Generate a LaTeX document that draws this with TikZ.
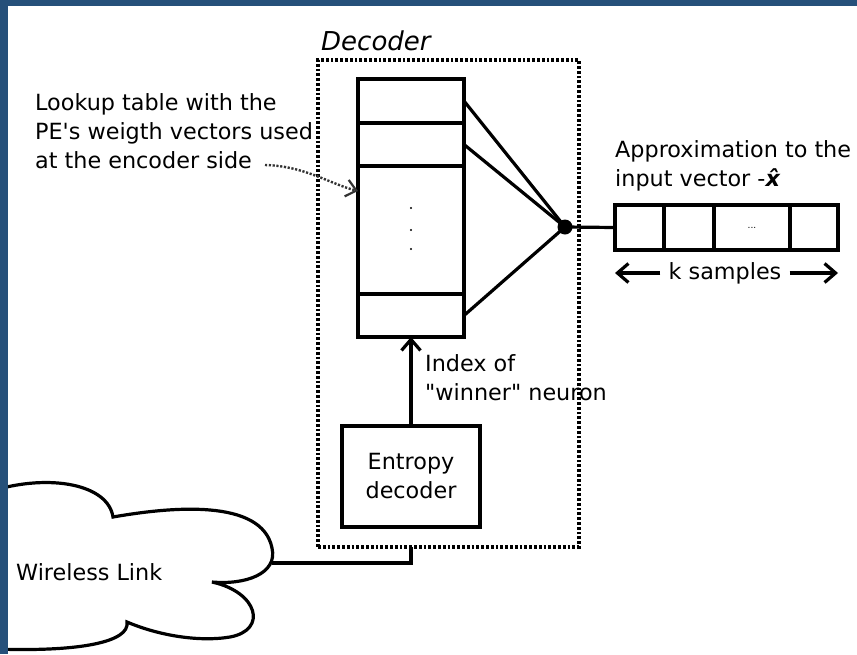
\documentclass[tikz,border=0pt]{standalone}
\usepackage{fontspec}
\setmainfont{DejaVu Sans}
\usetikzlibrary{positioning,arrows.meta}
\definecolor{frameblue}{RGB}{38,80,122}

\begin{document}
\begin{tikzpicture}[x=1pt, y=-1pt,
    font=\fontsize{22.3}{29}\selectfont,
    cell/.style={draw, line width=3.5pt, inner sep=0pt, outer sep=0pt, minimum width=106pt},
    veccell/.style={draw, line width=3.5pt, inner sep=0pt, outer sep=0pt, minimum height=45pt},
    block/.style={draw, line width=3.5pt, outer sep=0pt, align=center,
        minimum width=138pt, minimum height=101pt},
    dotbox/.style={draw, line width=3.2pt, dash pattern=on 2.8pt off 2pt, outer sep=0pt,
        minimum width=261pt, minimum height=487pt},
    note/.style={align=left, inner sep=0pt, anchor=north west},
    wire/.style={line width=3.2pt},
    barb/.style={line width=3.2pt, -{Straight Barb[length=11pt, width=19pt]}},
    pointer/.style={line width=2.4pt, black!80, dash pattern=on 2.2pt off 1.6pt,
        -{Straight Barb[length=10pt, width=17pt, line width=2.2pt]}}
        ]

    \fill [white] (0,0) rectangle (857,654);
    \path [use as bounding box] (0,0) rectangle (857,654);

    % decoder frame
    \node [dotbox] (decoder) at (448.5,303.5) {};
    \node [anchor=base west, inner sep=0pt, font=\fontsize{26}{30}\selectfont\itshape]
        (dectitle) at ([xshift=3pt, yshift=10pt]decoder.north west) {Decoder};

    % lookup table
    \node [cell, minimum height=44pt, anchor=north west] (row1) at (358,79) {};
    \node [cell, minimum height=43pt, below=0pt of row1] (row2) {};
    \node [cell, minimum height=128pt, below=0pt of row2] (rowdots) {};
    \node [cell, minimum height=43pt, below=0pt of rowdots] (rowN) {};
    \foreach \y in {208,230,249}
        \fill (411,\y) circle (1.1pt);

    \node [note] (lutnote) at (35,93)
        {Lookup table with the\\PE\textquotesingle s weigth vectors used\\at the encoder side};
    \coordinate (sideend) at (265,165);
    \draw [pointer] (sideend) .. controls (305,166) and (330,184) .. ([yshift=39pt]rowdots.west);

    % output vector
    \node [circle, fill, inner sep=0pt, minimum size=15pt] (junc) at (565,227) {};
    \draw [wire] (row1.east) -- (junc.center);
    \draw [wire] (row2.east) -- (junc.center);
    \draw [wire] (rowN.east) -- (junc.center);

    \node [veccell, minimum width=49pt, anchor=west] (v1) at (615,227.5) {};
    \node [veccell, minimum width=50pt, right=0pt of v1] (v2) {};
    \node [veccell, minimum width=76pt, right=0pt of v2] (v3) {\fontsize{9}{9}\selectfont ...};
    \node [veccell, minimum width=48pt, right=0pt of v3] (v4) {};
    \draw [wire] (junc.center) -- (v1.west);

    \node [note] (approx) at (615,140)
        {Approximation to the\\input vector -\textbf{\textit{\^{x}}}};

    \node [inner sep=8pt] (ksamp) at (725,273) {k samples};
    \draw [barb] (ksamp.west) -- (v1.west |- ksamp);
    \draw [barb] (ksamp.east) -- (v4.east |- ksamp);

    % entropy decoder
    \node [block] (entropy) at (411,476.5) {Entropy\\decoder};
    \draw [barb] (entropy.north) -- (rowN.south);
    \node [note] (index) at (425,354)
        {Index of\\\textquotedbl winner\textquotedbl{} neuron};

    % wireless link
    \draw [line width=3.2pt, fill=white] (-5,490) .. controls (50,474) and (108,484) .. (113,517)
        .. controls (170,507) and (262,498) .. (272,548)
        .. controls (278,574) and (245,585) .. (212,582)
        .. controls (258,592) and (268,630) .. (230,637)
        .. controls (200,642) and (160,636) .. (127,622)
        .. controls (130,642) and (80,652) .. (-5,649);
    \node [anchor=base west, inner sep=0pt] (wireless) at (16,580) {Wireless Link};
    \coordinate (cloudlink) at (272,563);
    \draw [wire] (cloudlink) -| (entropy.south |- decoder.south);

    % frame
    \fill [frameblue] (0,0) rectangle (8,654);
    \fill [frameblue] (0,0) rectangle (857,6);

\end{tikzpicture}
\end{document}
